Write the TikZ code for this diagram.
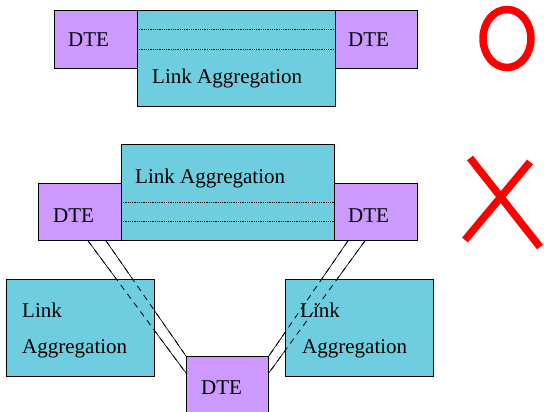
\documentclass[tikz,border=0pt]{standalone}
\usepackage{fontspec}
\setmainfont{Liberation Serif}
\usetikzlibrary{calc,backgrounds}
\definecolor{dtefill}{RGB}{204,153,255}
\definecolor{lafill}{RGB}{110,205,222}
\definecolor{markred}{RGB}{255,0,0}
\begin{document}
\begin{tikzpicture}[x=1pt,y=-1pt,
  box/.style={draw=black,line width=0.8pt,inner sep=0pt,anchor=north west},
  dtebox/.style={box,fill=dtefill},
  labox/.style={box,fill=lafill},
  lbl/.style={font=\rmfamily\fontsize{21}{24}\selectfont,inner sep=0pt,anchor=base west},
  sep/.style={densely dotted,line width=0.8pt},
  wire/.style={line width=0.6pt},
  hidden/.style={line width=0.8pt,dash pattern=on 6pt off 5pt},
  markstroke/.style={draw=markred,line width=7.5pt}]
\useasboundingbox (0,0) rectangle (544,412);
\clip (0,0) rectangle (544,412);

% --- upper arrangement: one aggregated link between two stations
\node[dtebox,minimum width=83pt,minimum height=58pt] (dteA) at (54,10) {};
\node[labox,minimum width=198pt,minimum height=96pt] (laA) at (137,10) {};
\node[dtebox,minimum width=82pt,minimum height=58pt] (dteB) at (335,10) {};
\draw[sep] ($(laA.north west)+(0,19)$) -- ($(laA.north east)+(0,19)$);
\draw[sep] ($(laA.north west)+(0,39)$) -- ($(laA.north east)+(0,39)$);
\node[lbl] (tA) at (68,47) {DTE};
\node[lbl] (tB) at (348,47) {DTE};
\node[lbl] (tLA) at (152,84) {Link Aggregation};

% --- lower arrangement: aggregation across three stations
\node[labox,minimum width=213pt,minimum height=96pt] (laB) at (121,144) {};
\node[dtebox,minimum width=83pt,minimum height=57pt] (dteC) at (38,183) {};
\node[dtebox,minimum width=83pt,minimum height=57pt] (dteD) at (334,183) {};
\draw[sep] ($(laB.north west)+(0,58)$) -- ($(laB.north east)+(0,58)$);
\draw[sep] ($(laB.north west)+(0,77)$) -- ($(laB.north east)+(0,77)$);
\node[lbl] (tC) at (53,222) {DTE};
\node[lbl] (tD) at (348,222) {DTE};
\node[lbl] (tLB) at (135,183) {Link Aggregation};

\node[labox,minimum width=148pt,minimum height=97pt] (laC) at (6,279) {};
\node[labox,minimum width=148pt,minimum height=97pt] (laD) at (285,279) {};
\node[dtebox,minimum width=82pt,minimum height=70pt] (dteE) at (186,356) {};
\node[lbl] (tLC1) at (22,317) {Link};
\node[lbl] (tLC2) at (22,353) {Aggregation};
\node[lbl] (tLD1) at (300,317) {Link};
\node[lbl] (tLD2) at (302,353) {Aggregation};
\node[lbl] (tE) at (201,394) {DTE};

% link end points on the station boxes
\coordinate (cL1) at ($(dteC.south west)+(50,0)$);
\coordinate (cL2) at ($(dteC.south west)+(68,0)$);
\coordinate (cR1) at ($(dteD.south west)+(14,0)$);
\coordinate (cR2) at ($(dteD.south west)+(31,0)$);
\coordinate (eL1) at ($(dteE.north west)+(0,17)$);
\coordinate (eL2) at (dteE.north west);
\coordinate (eR1) at (dteE.north east);
\coordinate (eR2) at ($(dteE.north east)+(0,17)$);

% solid links run behind the boxes ...
\begin{scope}[on background layer]
  \draw[wire] (cL1) -- (eL1);
  \draw[wire] (cL2) -- (eL2);
  \draw[wire] (cR1) -- (eR1);
  \draw[wire] (cR2) -- (eR2);
\end{scope}
% ... and show through them as dashed lines
\draw[hidden] (cL1) -- (eL1);
\draw[hidden] (cL2) -- (eL2);
\draw[hidden] (cR1) -- (eR1);
\draw[hidden] (cR2) -- (eR2);

% verdict marks
\draw[markstroke] (507,38.5) ellipse [x radius=24, y radius=29];
\draw[markstroke] (470,158) -- (540,247);
\draw[markstroke] (530,162) -- (465,240);
\end{tikzpicture}
\end{document}
